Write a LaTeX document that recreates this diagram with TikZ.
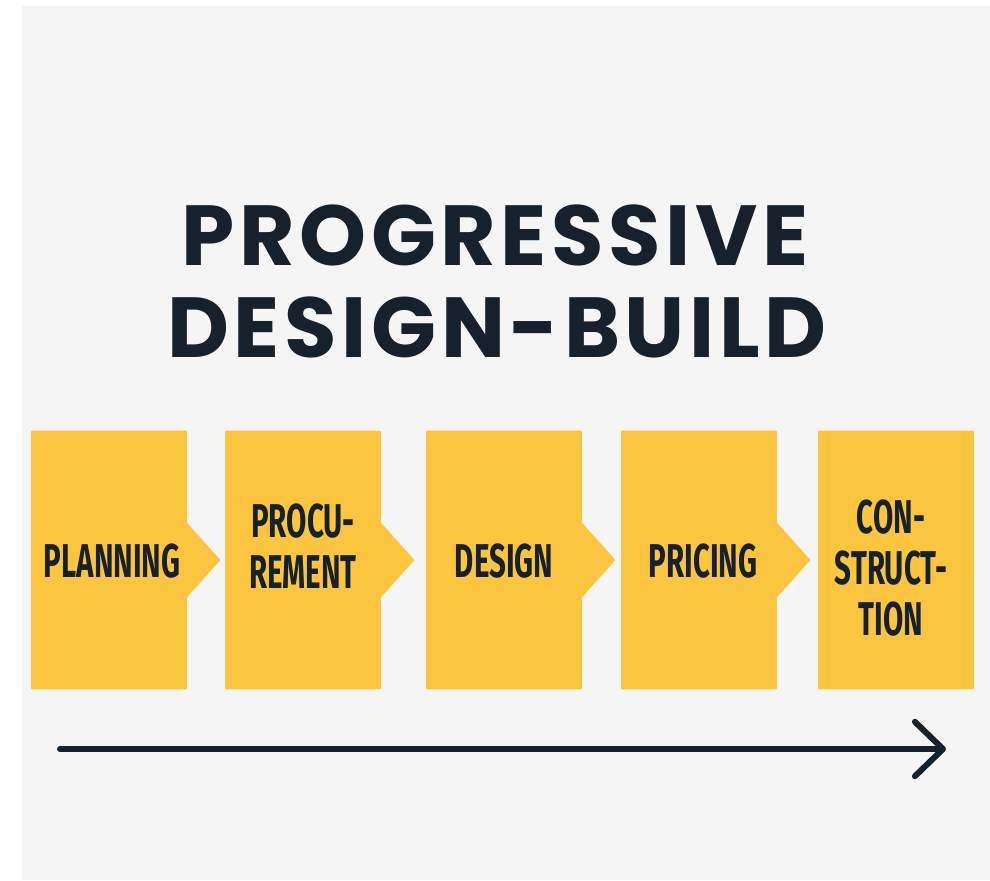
\documentclass[tikz,border=0pt]{standalone}
\usepackage{fontspec}
\usetikzlibrary{arrows.meta}
\newfontfamily\titlefont{Poppins}[LetterSpace=5.5]
\newfontfamily\stagefont{Fira Sans}[FakeStretch=0.62]
\definecolor{bggray}{HTML}{F5F5F5}
\definecolor{stagefill}{HTML}{FCC53F}
\definecolor{inkdark}{HTML}{17212B}
\tikzset{
  stepbox/.style={fill=stagefill, minimum width=3.12cm, minimum height=5.18cm, rounded corners=0.6pt, inner sep=0pt},
  steptext/.style={anchor=base, align=center, text=inkdark, inner sep=0pt,
    font=\stagefont\bfseries\fontsize{27}{29}\selectfont},
  titletext/.style={anchor=base, text=inkdark, inner sep=0pt,
    font=\titlefont\bfseries\fontsize{48.5}{50}\selectfont},
  timeline/.style={line width=3.4pt, line cap=round, draw=inkdark,
    -{Straight Barb[length=16pt,width=31pt,round]}}
}

\begin{document}
\begin{tikzpicture}[x=0.02cm, y=-0.02cm]
  \useasboundingbox (0,0) rectangle (990,880);
  \fill[white] (0,0) rectangle (990,880);
  \fill[bggray] (22,6) rectangle (990,880);

  % title
  \node[titletext] (title1) at (495,265) {PROGRESSIVE};
  \node[titletext] (title2) at (497,357) {DESIGN-BUILD};

  % stages
  \node[stepbox] (p1) at (109,560) {};
  \node[stepbox] (p2) at (303,560) {};
  \node[stepbox] (p3) at (504,560) {};
  \node[stepbox] (p4) at (699,560) {};
  \node[stepbox] (p5) at (896,560) {};
  \foreach \p in {p1,p2,p3,p4}
    \fill[stagefill] (\p.east) ++(-1,38) -- ++(34,-38) -- ++(-34,-38) -- cycle;

  % base anchor sits on the last line
  \node[steptext] (planning) at (112,577) {PLANNING};
  \node[steptext] (procurement) at (303,588) {PROCU-\\REMENT};
  \node[steptext] (design) at (504,577) {DESIGN};
  \node[steptext] (pricing) at (703,577) {PRICING};
  \node[steptext] (construction) at (891,635) {CON-\\STRUCT-\\TION};

  % time arrow
  \coordinate (start) at (60,749);
  \coordinate (finish) at (946,749);
  \draw[timeline] (start) -- (finish);
\end{tikzpicture}
\end{document}
